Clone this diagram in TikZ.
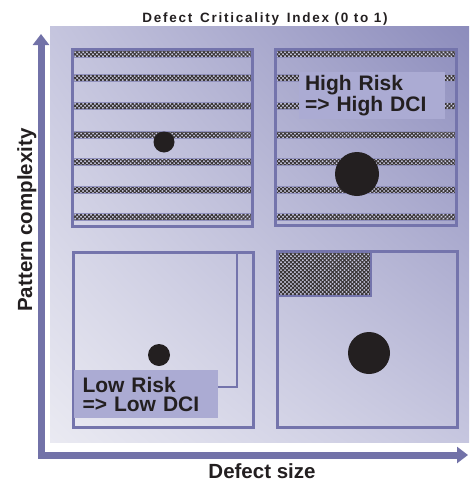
\documentclass[tikz,border=0pt]{standalone}
\usepackage{fontspec}
\setmainfont{Liberation Sans}
\usetikzlibrary{patterns.meta,arrows.meta,shadings}
\definecolor{axisc}{RGB}{114,114,168}
\definecolor{boxc}{RGB}{116,116,172}
\definecolor{lbl}{RGB}{171,171,211}
\definecolor{ink}{RGB}{35,31,32}
\definecolor{bgLL}{RGB}{234,234,242}
\definecolor{bgUL}{RGB}{197,197,222}
\definecolor{bgUR}{RGB}{140,140,188}
\definecolor{bgLR}{RGB}{198,198,223}
\definecolor{bandbg}{RGB}{206,206,230}
\tikzset{
  axisline/.style={draw=axisc, line width=7pt, line join=miter,
    {Triangle[width=16pt,length=11pt]}-{Triangle[width=16pt,length=11pt]}},
  quad/.style={draw=boxc, line width=3pt},
  thinbox/.style={draw=boxc, line width=1.5pt},
  band/.style={fill=bandbg, draw=boxc!80, line width=0.8pt},
  hatchfill/.style={pattern={Hatch[distance=2.8pt,angle=45,line width=1.05pt]}, pattern color=ink!90},
  dot/.style={circle, fill=ink, inner sep=0pt, minimum size=#1},
  riskbox/.style={fill=lbl, text=ink, align=left, inner sep=0pt, inner xsep=0pt,
    font=\bfseries\fontsize{21}{19}\selectfont, anchor=north west},
  axlabel/.style={text=ink, font=\bfseries\fontsize{20.5}{24}\selectfont, inner sep=0pt}
}
\begin{document}
\begin{tikzpicture}[x=1pt,y=-1pt]
\useasboundingbox (0,0) rectangle (469,482);
% background panel
\shade[upper left=bgUL, upper right=bgUR, lower left=bgLL, lower right=bgLR] (50,26) rectangle (469,442);
% axes
\coordinate (ytop) at (41,34);
\coordinate (orig) at (41,455);
\coordinate (xend) at (468,455);
\draw[axisline] (ytop) -- (orig) -- (xend);
% title and axis labels
\node[text=ink, anchor=base, inner sep=0pt, font=\bfseries\fontsize{13.5}{15}\selectfont\addfontfeature{LetterSpace=13}] (title) at (265,22.5) {Defect\, Criticality\, Index (0 to 1)};
\node[axlabel, anchor=base] (xlab) at (262,478.5) {Defect size};
\node[axlabel, anchor=base, rotate=90] (ylab) at (32,220) {Pattern complexity};
% top-left quadrant
\foreach \y in {54,78,106,135,162,190,217} {
  \filldraw[band] (73,\y-3.3) rectangle (251,\y+3.3);
  \fill[hatchfill] (73,\y-2.9) rectangle (251,\y+2.9);
}
\draw[quad] (72,49) rectangle (252,226);
\node[dot=21pt] (dotTL) at (164,142) {};
% top-right quadrant
\foreach \y in {54,78,106,135,162,190,217} {
  \filldraw[band] (276,\y-3.3) rectangle (455,\y+3.3);
  \fill[hatchfill] (276,\y-2.9) rectangle (455,\y+2.9);
}
\draw[quad] (275,49) rectangle (456,225);
\node[dot=44pt] (dotTR) at (357,174) {};
\node[riskbox, minimum width=140pt, minimum height=47pt, text width=134pt, inner xsep=6pt, anchor=center] (high) at (372,95.5) {High Risk\\=> High DCI};
% bottom-left quadrant
\draw[thinbox] (73,252) rectangle (237,387);
\draw[quad] (73,252) rectangle (253,427);
\node[dot=22pt] (dotBL) at (159,355) {};
\node[riskbox, minimum width=135pt, minimum height=48pt, text width=126pt, inner xsep=9pt, anchor=center] (low) at (145.5,394) {Low Risk\\=> Low DCI};
% bottom-right quadrant
\fill[bandbg] (277,251) rectangle (371,296);
\fill[pattern={Hatch[distance=2.8pt,angle=45,line width=1.1pt]}, pattern color=ink!90] (277,251) rectangle (371,296);
\draw[thinbox] (277,296) -- (371,296) -- (371,251);
\draw[quad] (277,251) rectangle (457,427);
\node[dot=42pt] (dotBR) at (369,353) {};
\end{tikzpicture}
\end{document}
